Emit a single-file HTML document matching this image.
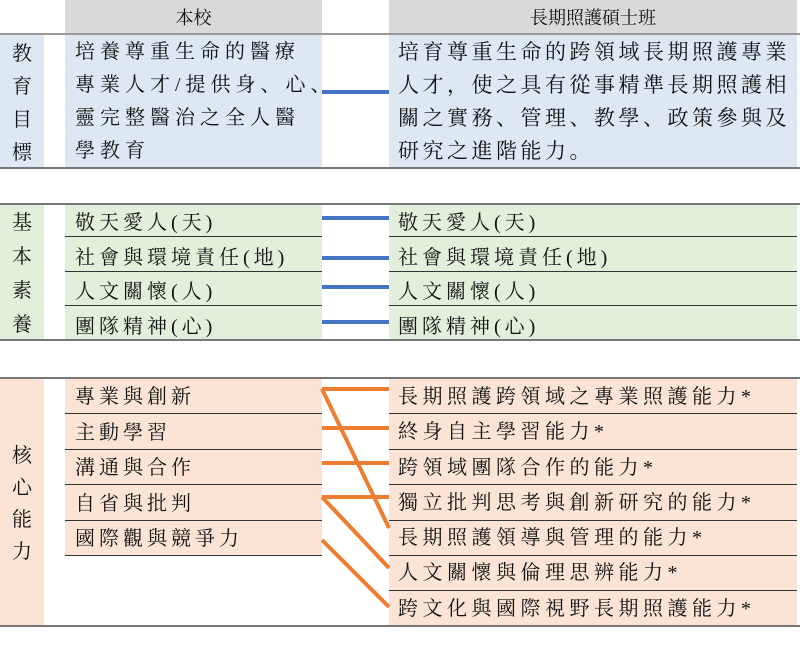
<!DOCTYPE html>
<html><head><meta charset="utf-8"><style>
body{margin:0;width:800px;height:656px;background:#fff;position:relative;overflow:hidden;font-family:"Liberation Serif","Noto Serif CJK SC","Noto Serif CJK TC",serif;color:#111}
div{position:absolute;box-sizing:border-box}
.t{white-space:nowrap}
.hl{height:2px;background:#777}
</style></head><body>
<!-- header -->
<div style="left:65px;top:0;width:257px;height:33px;background:#d9d9d9"></div>
<div style="left:389px;top:0;width:408px;height:33px;background:#d9d9d9"></div>
<div class="t" style="left:65px;top:4px;width:257px;text-align:center;font-size:18px">本校</div>
<div class="t" style="left:389px;top:4px;width:408px;text-align:center;font-size:18px">長期照護碩士班</div>
<div class="hl" style="left:0;top:33px;width:800px;background:#999"></div>

<!-- section 1 -->
<div style="left:0;top:35px;width:44px;height:132px;background:#dde8f3"></div>
<div style="left:65px;top:35px;width:257px;height:132px;background:#dde8f3"></div>
<div style="left:389px;top:35px;width:408px;height:132px;background:#dde8f3"></div>
<div style="left:0;top:38px;width:44px;text-align:center;font-size:20px;line-height:33px">教<br>育<br>目<br>標</div>
<div class="t" style="left:75px;top:36px;font-size:20px;line-height:33px;letter-spacing:5px">培養尊重生命的醫療<br>專業人才/提供身、心、<br>靈完整醫治之全人醫<br>學教育</div>
<div class="t" style="left:398px;top:36px;font-size:21px;line-height:33px;letter-spacing:3.5px">培育尊重生命的跨領域長期照護專業<br>人才，使之具有從事精準長期照護相<br>關之實務、管理、教學、政策參與及<br>研究之進階能力。</div>
<div style="left:322px;top:90px;width:67px;height:4px;background:#4472c4"></div>
<div class="hl" style="left:0;top:167px;width:800px"></div>

<!-- section 2 -->
<div class="hl" style="left:0;top:203px;width:800px"></div>
<div style="left:0;top:205px;width:44px;height:134px;background:#e2efda"></div>
<div style="left:65px;top:205px;width:257px;height:134px;background:#e2efda"></div>
<div style="left:389px;top:205px;width:408px;height:134px;background:#e2efda"></div>
<div style="left:0;top:206px;width:44px;text-align:center;font-size:20px;line-height:34px">基<br>本<br>素<br>養</div>
<div style="left:65px;top:236px;width:257px;height:1px;background:#333"></div>
<div style="left:65px;top:271px;width:257px;height:1px;background:#333"></div>
<div style="left:65px;top:305px;width:257px;height:1px;background:#333"></div>
<div style="left:389px;top:236px;width:408px;height:1px;background:#333"></div>
<div style="left:389px;top:271px;width:408px;height:1px;background:#333"></div>
<div style="left:389px;top:305px;width:408px;height:1px;background:#333"></div>
<div class="t" style="left:75px;top:206px;font-size:20px;line-height:34.5px;letter-spacing:4px">敬天愛人(天)<br>社會與環境責任(地)<br>人文關懷(人)<br>團隊精神(心)</div>
<div class="t" style="left:398px;top:206px;font-size:20px;line-height:34.5px;letter-spacing:4px">敬天愛人(天)<br>社會與環境責任(地)<br>人文關懷(人)<br>團隊精神(心)</div>
<div style="left:322px;top:216px;width:67px;height:4px;background:#4472c4"></div>
<div style="left:322px;top:256px;width:67px;height:4px;background:#4472c4"></div>
<div style="left:322px;top:285px;width:67px;height:4px;background:#4472c4"></div>
<div style="left:322px;top:320px;width:67px;height:4px;background:#4472c4"></div>
<div class="hl" style="left:0;top:339px;width:800px"></div>

<!-- section 3 -->
<div class="hl" style="left:0;top:377px;width:800px"></div>
<div style="left:0;top:379px;width:44px;height:246px;background:#fbe4d5"></div>
<div style="left:65px;top:379px;width:257px;height:176px;background:#fbe4d5"></div>
<div style="left:389px;top:379px;width:408px;height:246px;background:#fbe4d5"></div>
<div style="left:0;top:440px;width:44px;text-align:center;font-size:20px;line-height:32px">核<br>心<br>能<br>力</div>
<div style="left:65px;top:413px;width:257px;height:1px;background:#333"></div>
<div style="left:65px;top:449px;width:257px;height:1px;background:#333"></div>
<div style="left:65px;top:484px;width:257px;height:1px;background:#333"></div>
<div style="left:65px;top:520px;width:257px;height:1px;background:#333"></div>
<div style="left:65px;top:555px;width:257px;height:1px;background:#333"></div>
<div style="left:389px;top:413px;width:408px;height:1px;background:#333"></div>
<div style="left:389px;top:449px;width:408px;height:1px;background:#333"></div>
<div style="left:389px;top:484px;width:408px;height:1px;background:#333"></div>
<div style="left:389px;top:520px;width:408px;height:1px;background:#333"></div>
<div style="left:389px;top:555px;width:408px;height:1px;background:#333"></div>
<div style="left:389px;top:590px;width:408px;height:1px;background:#333"></div>
<div class="t" style="left:75px;top:380px;font-size:20px;line-height:35.5px;letter-spacing:4px">專業與創新<br>主動學習<br>溝通與合作<br>自省與批判<br>國際觀與競爭力</div>
<div class="t" style="left:398px;top:380px;font-size:20px;line-height:35.3px;letter-spacing:4.5px">長期照護跨領域之專業照護能力*<br>終身自主學習能力*<br>跨領域團隊合作的能力*<br>獨立批判思考與創新研究的能力*<br>長期照護領導與管理的能力*<br>人文關懷與倫理思辨能力*<br>跨文化與國際視野長期照護能力*</div>
<svg style="position:absolute;left:0;top:0" width="800" height="656">
<g stroke="#ed7d31" stroke-width="4" fill="none">
<line x1="322" y1="389" x2="389" y2="389"/>
<line x1="322" y1="389" x2="389" y2="528"/>
<line x1="322" y1="428" x2="389" y2="428"/>
<line x1="322" y1="463" x2="389" y2="463"/>
<line x1="322" y1="497" x2="389" y2="497"/>
<line x1="322" y1="497" x2="389" y2="568"/>
<line x1="322" y1="540" x2="389" y2="607"/>
</g></svg>
<div class="hl" style="left:0;top:625px;width:800px"></div>
</body></html>
